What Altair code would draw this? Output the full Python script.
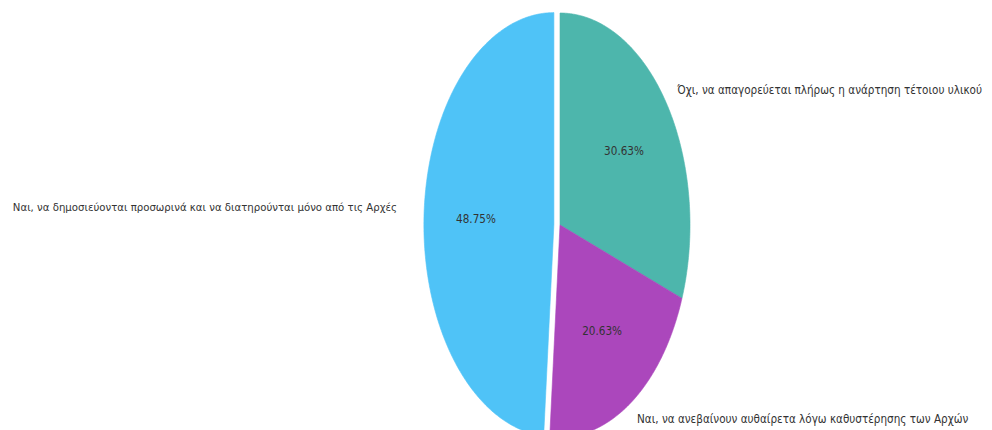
import altair as alt
import pandas as pd

# ---- data ----
categories = [
    "Όχι, να απαγορεύεται πλήρως η ανάρτηση τέτοιου υλικού",
    "Ναι, να ανεβαίνουν αυθαίρετα λόγω καθυστέρησης των Αρχών",
    "Ναι, να δημοσιεύονται προσωρινά και να διατηρούνται μόνο από τις Αρχές",
]
values = [30.63, 20.63, 48.75]
colors = ["#4db6ac", "#ab47bc", "#4fc3f7"]
exploded = categories[2]

df = pd.DataFrame({"cat": categories, "val": values, "ord": list(range(len(categories)))})

# ---- layout (pixels) ----
W, H = 976, 422
CX, CY = 560, 225     # page coords of pie centre
RX, RY = 130, 212     # ellipse radii in px
EXPLODE = 0.047       # sliced offset (unit radius)
N = 240               # arc resolution per slice
K_OUT, K_IN = 1.1, 0.6
FONT = "Liberation Sans Narrow, DejaVu Sans Condensed, Roboto"
FS_R, FS_L, FS_IN = 11.6, 11.3, 11.6
TXT = "#333333"

xs = alt.Scale(domain=[-(CX - 8) / RX, (8 + W - CX) / RX], nice=False, zero=False)
ys = alt.Scale(domain=[-(8 + H - CY) / RY, (CY - 8) / RY], nice=False, zero=False)
cscale = alt.Scale(domain=categories, range=colors)

base = (
    alt.Chart(df)
    .transform_window(cum="sum(val)", sort=[alt.SortField("ord")], frame=[None, 0])
    .transform_joinaggregate(tot="sum(val)")
    .transform_calculate(
        a1="2*PI*datum.cum/datum.tot",
        a0="2*PI*(datum.cum-datum.val)/datum.tot",
    )
    .transform_calculate(
        mid="(datum.a0+datum.a1)/2",
        ex=f"datum.cat=='{exploded}' ? {EXPLODE} : 0",
    )
    .transform_calculate(ox="datum.ex*sin(datum.mid)", oy="datum.ex*cos(datum.mid)")
)

slices = (
    base.transform_calculate(pts=f"sequence(-1, {N + 1})")
    .transform_flatten(["pts"], ["i"])
    .transform_calculate(
        t=f"datum.a0+(datum.a1-datum.a0)*max(datum.i,0)/{N}",
    )
    .transform_calculate(
        px="datum.ox + (datum.i<0 ? 0 : sin(datum.t))",
        py="datum.oy + (datum.i<0 ? 0 : cos(datum.t))",
    )
    .mark_line(interpolate="linear-closed", strokeWidth=0.6)
    .encode(
        x=alt.X("px:Q", scale=xs, axis=None),
        y=alt.Y("py:Q", scale=ys, axis=None),
        color=alt.Color("cat:N", scale=cscale, legend=None),
        fill=alt.Fill("cat:N", scale=cscale, legend=None),
        order=alt.Order("i:Q"),
    )
)

outer = base.transform_calculate(
    lx=f"datum.ox+{K_OUT}*sin(datum.mid)", ly=f"datum.oy+{K_OUT}*cos(datum.mid)"
)
right_lbl = outer.transform_filter("sin(datum.mid) > 0").mark_text(
    align="left", baseline="alphabetic", dy=2, font=FONT, fontSize=FS_R, color=TXT
).encode(x=alt.X("lx:Q", scale=xs, axis=None), y=alt.Y("ly:Q", scale=ys, axis=None), text="cat:N")
left_lbl = outer.transform_filter("sin(datum.mid) <= 0").mark_text(
    align="right", baseline="alphabetic", dx=-14, dy=-4, font=FONT, fontSize=FS_L, color=TXT
).encode(x=alt.X("lx:Q", scale=xs, axis=None), y=alt.Y("ly:Q", scale=ys, axis=None), text="cat:N")

inner = (
    base.transform_calculate(
        ix=f"datum.ox+{K_IN}*sin(datum.mid)",
        iy=f"datum.oy+{K_IN}*cos(datum.mid)",
        pct="format(datum.val, '.2f') + '%'",
    )
    .mark_text(align="center", baseline="middle", font=FONT, fontSize=FS_IN, color=TXT)
    .encode(x=alt.X("ix:Q", scale=xs, axis=None), y=alt.Y("iy:Q", scale=ys, axis=None), text="pct:N")
)

chart = (
    alt.layer(slices, right_lbl, left_lbl, inner)
    .properties(width=W, height=H, padding=0, autosize=alt.AutoSizeParams(type="none"))
    .configure_view(stroke=None)
)

chart.save("out.html", embed_options={"renderer": "svg", "actions": False})
